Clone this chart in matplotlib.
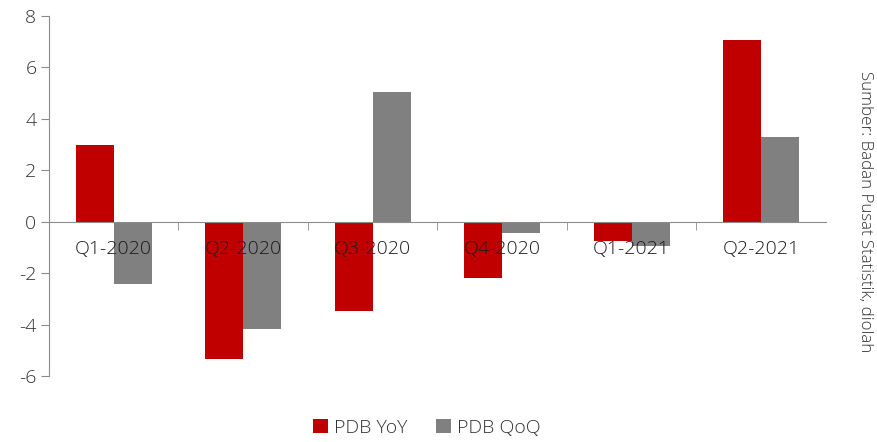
import matplotlib
matplotlib.use("Agg")
import matplotlib.pyplot as plt
import numpy as np

categories = ["Q1-2020", "Q2-2020", "Q3-2020", "Q4-2020", "Q1-2021", "Q2-2021"]
pdb_yoy = [2.97, -5.32, -3.49, -2.19, -0.74, 7.07]
pdb_qoq = [-2.41, -4.19, 5.05, -0.42, -0.96, 3.31]
source_text = "Sumber: Badan Pusat Statistik, diolah"

plt.rcParams["font.family"] = ["Open Sans", "DejaVu Sans"]
plt.rcParams["axes.unicode_minus"] = False

fig = plt.figure(figsize=(8.78, 4.42), dpi=100)
ax = fig.add_axes([49/878, 1-376/442, (826-49)/878, (376-16)/442])

x = np.arange(len(categories))
w = 0.295
red = "#C00000"
grey = "#808080"
ax.bar(x - w/2, pdb_yoy, w, color=red, label="PDB YoY", zorder=2)
ax.bar(x + w/2, pdb_qoq, w, color=grey, label="PDB QoQ", zorder=2)

ax.set_xlim(-0.5, len(categories) - 0.5)
ax.set_ylim(-6, 8)
ax.set_yticks(np.arange(-6, 9, 2))

spine_c = "#8c8c8c"
for s in ["top", "right"]:
    ax.spines[s].set_visible(False)
ax.spines["left"].set_color(spine_c)
ax.spines["bottom"].set_color(spine_c)
ax.spines["bottom"].set_position(("data", 0))
ax.set_axisbelow(False)

ax.set_xticks(x)
ax.set_xticklabels(categories)
ax.set_xticks(np.arange(0.5, len(categories) - 0.5, 1), minor=True)
ax.tick_params(axis="x", which="major", length=0, pad=13, labelsize=14, labelcolor="#1a1a1a")
ax.tick_params(axis="x", which="minor", length=6, direction="out", color=spine_c)
ax.tick_params(axis="y", length=6, color=spine_c, labelsize=14, labelcolor="#333333", pad=3)
for lbl in ax.get_xticklabels():
    lbl.set_zorder(5)
    lbl.set_fontweight("light")
for lbl in ax.get_yticklabels():
    lbl.set_fontweight("light")

fig.text(865/878, 1-212/442, source_text, rotation=270, ha="center", va="center",
         fontsize=12.2, color="#333333", fontweight="light")

fig.legend(loc="center", bbox_to_anchor=(427/878, 1-428/442), ncol=2, frameon=False,
           prop={"size": 14, "weight": "light"}, handlelength=0.75, handleheight=0.75,
           handletextpad=0.3, columnspacing=1.5, labelcolor="#333333")

fig.savefig("out.png", dpi=100)
